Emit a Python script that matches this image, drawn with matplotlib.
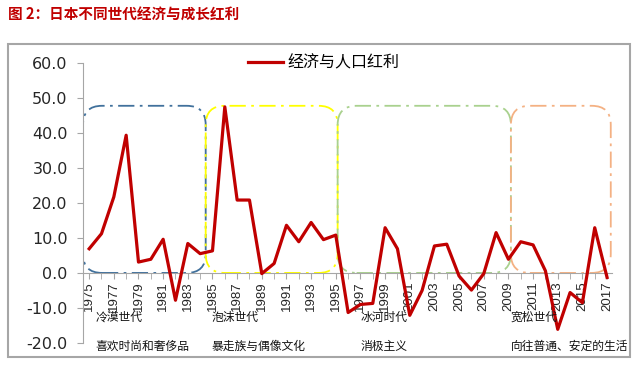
import matplotlib
matplotlib.use("Agg")
import matplotlib.pyplot as plt
from matplotlib.patches import FancyBboxPatch, Rectangle
import numpy as np

plt.rcParams['font.family'] = ['Noto Sans CJK SC', 'DejaVu Sans']

years = list(range(1975, 2018))
values = [6.9, 11.2, 21.7, 39.3, 3.1, 3.9, 9.6, -7.8, 8.4, 5.5,
          6.3, 47.4, 20.8, 20.8, -0.2, 2.7, 13.6, 8.9, 14.4, 9.5,
          10.8, -11.3, -9.0, -8.7, 12.9, 6.9, -12.1, -5.0, 7.7, 8.2,
          -0.9, -4.9, -0.2, 11.5, 3.9, 8.9, 8.0, 0.6, -16.1, -5.6,
          -8.5, 12.9, -1.3]
series_label = "经济与人口红利"
title = "图 2：日本不同世代经济与成长红利"

era_bounds = [(1974.5, 1984.45), (1984.45, 1995.15), (1995.15, 2009.2), (2009.2, 2017.3)]
era_top = 47.7
era_colors = ["#41719C", "#FFFF00", "#A9D18E", "#F4B183"]
era_names = ["冷漠世代", "泡沫世代", "冰河时代", "宽松世代"]
era_traits = ["喜欢时尚和奢侈品", "暴走族与偶像文化", "消极主义", "向往普通、安定的生活"]
era_text_x = [1975.5, 1984.9, 1997.0, 2009.2]

fig = plt.figure(figsize=(6.4, 3.7), dpi=100)
ax = fig.add_axes([83/640, 1-343/370, (612-83)/640, (343-62.7)/370])
ax.set_xlim(1974.5, 2017.4)
ax.set_ylim(-20, 60)

for s in ['top', 'right']:
    ax.spines[s].set_visible(False)
ax.spines['left'].set_color('#A6A6A6')
ax.spines['bottom'].set_color('#A6A6A6')
ax.spines['bottom'].set_position(('data', 0))

ax.set_yticks(np.arange(-20, 61, 10))
ax.set_yticklabels([f"{v:.1f}" for v in np.arange(-20, 61, 10)], fontsize=11.5,
                   family='DejaVu Sans', color='#262626')
ax.tick_params(axis='y', direction='out', length=4, color='#A6A6A6', pad=7)

ax.set_xticks(years[::2])
ax.set_xticklabels([str(y) for y in years[::2]], rotation=90, fontsize=9.5,
                   family='Liberation Sans', color='#262626')
ax.set_xticks(years, minor=True)
ax.tick_params(axis='x', which='both', direction='out', length=4, color='#A6A6A6', pad=2)

# era boxes
fig.canvas.draw()
p0 = ax.transData.transform((0, 0))
px = ax.transData.transform((1, 0))[0] - p0[0]
py = ax.transData.transform((0, 1))[1] - p0[1]
aspect = px / py
r = 19 / px
for (x0, x1), c in zip(era_bounds, era_colors):
    box = FancyBboxPatch((x0, 0), x1 - x0, era_top,
                         boxstyle=f"round,pad=0,rounding_size={r}",
                         mutation_aspect=aspect, fill=False, edgecolor=c,
                         linestyle=(0, (9, 3, 1.5, 3)), linewidth=1.3, zorder=2)
    ax.add_patch(box)

ax.plot(years, values, color='#C00000', linewidth=2.3, label=series_label, zorder=3)

leg = ax.legend(loc='center left', bbox_to_anchor=(0.285, 1.0), frameon=False,
                handlelength=2.2, handletextpad=0.25, prop={'size': 11.5})

for xt, n, t in zip(era_text_x, era_names, era_traits):
    ax.text(xt, -12.6, n, fontsize=8.5, va='center', ha='left', clip_on=False, color='#111111')
    ax.text(xt, -20.9, t, fontsize=8.5, va='center', ha='left', clip_on=False, color='#111111')

fig.text(8/640, 1-15/370, title, color='#C00000', fontsize=10.5, fontweight='bold',
         va='center', ha='left')

fig.patches.append(Rectangle((8/640, 1-357/370), (630-8)/640, (357-44)/370,
                             transform=fig.transFigure, fill=False,
                             edgecolor='#A6A6A6', linewidth=1.5))

fig.savefig("out.png", dpi=100)
